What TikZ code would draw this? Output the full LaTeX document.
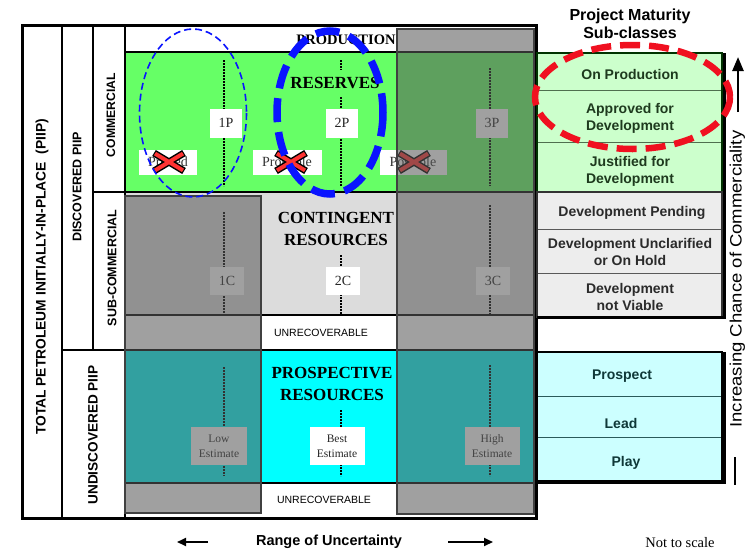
\documentclass[tikz,border=0pt]{standalone}
\usepackage{fontspec}
\setmainfont{Liberation Serif}
\newfontfamily\arialf{Liberation Sans}
\usetikzlibrary{arrows.meta,shapes.geometric}
\newcommand{\fsz}[2]{\fontsize{#1}{#2}\selectfont}
\definecolor{resgreen}{HTML}{66FF66}
\definecolor{contgray}{HTML}{DCDCDC}
\definecolor{prospcyan}{HTML}{00FFFF}
\definecolor{ovgray}{HTML}{595959}
\definecolor{pgreen}{HTML}{CCFFCC}
\definecolor{pgray}{HTML}{EDEDED}
\definecolor{pcyan}{HTML}{CCFFFF}
\definecolor{dblue}{HTML}{0A14FF}
\definecolor{xred}{HTML}{FF3333}
\definecolor{ered}{HTML}{F01020}
\definecolor{gtext}{HTML}{1E3A1E}
\definecolor{grtext}{HTML}{2B2B2B}
\definecolor{ctext}{HTML}{0F3838}
\definecolor{gline}{HTML}{4F6F4F}
\definecolor{cline}{HTML}{2A5A5A}
\tikzset{
  redcross/.pic={
    \draw[line width=7pt, black] (-15,-9)--(15,9) (-15,9)--(15,-9);
    \draw[line width=4pt, xred] (-14,-8.4)--(14,8.4) (-14,8.4)--(14,-8.4);
  }
}
\begin{document}
\begin{tikzpicture}[x=1pt,y=-1pt,
  gridline/.style={line width=2.6pt, black},
  dotline/.style={line width=2.1pt, dash pattern=on 1.7pt off 1.3pt, black},
  lbox/.style={fill=white, inner sep=0pt, align=center, font=\fsz{14}{16}, text=black!85},
  ebox/.style={fill=white, inner sep=0pt, align=center, font=\fsz{11.5}{15}, text=black!85, minimum width=55, minimum height=38},
  catbox/.style={fill=white, inner sep=0pt, align=center, font=\fsz{14}{16}, text=black!80, minimum height=25},
  heading/.style={font=\bfseries\fsz{17}{22}, align=center},
  sidelbl/.style={rotate=90, inner sep=0pt},
  unrec/.style={font=\arialf\fsz{10.5}{12}},
  ovcol/.style={fill=ovgray, fill opacity=0.57, draw=black!75, line width=1.2pt},
  mat/.style={font=\arialf\bfseries\fsz{14}{17}, align=center},
]
\useasboundingbox (0,0) rectangle (745,552);
% base fills
\fill[white] (22,25) rectangle (536,518);
\fill[resgreen] (125,52) rectangle (536,192);
\fill[contgray] (125,192) rectangle (536,315);
\fill[prospcyan] (125,350) rectangle (536,483);
% dotted lines
\draw[dotline] (224,60)--(224,186);
\draw[dotline] (341,60)--(341,70);
\draw[dotline] (341,97)--(341,186);
\draw[dotline] (490,68)--(490,186);
\draw[dotline] (224,212)--(224,314);
\draw[dotline] (341,255)--(341,314);
\draw[dotline] (490,205)--(490,314);
\draw[dotline] (224,367)--(224,476);
\draw[dotline] (341,410)--(341,476);
\draw[dotline] (490,365)--(490,476);
% headings
\node[heading, font=\bfseries\fsz{14.5}{17}] (prod) at (346,40) {PRODUCTION};
\node[heading] (res) at (335,83) {RESERVES};
\node[heading] (cont) at (336,229) {CONTINGENT\\RESOURCES};
\node[heading] (prosp) at (332,384) {PROSPECTIVE\\RESOURCES};
% labels
\node[lbox, minimum width=32, minimum height=29] (p1) at (226,123) {1P};
\node[lbox, minimum width=32, minimum height=29] (p2) at (342,123) {2P};
\node[lbox, minimum width=32, minimum height=29] (p3) at (492,123) {3P};
\node[catbox, minimum width=58] (proved) at (168,162) {Proved};
\node[catbox, minimum width=69] (probable) at (287,162) {Probable};
\node[catbox, minimum width=67] (possible) at (413,162) {Possible};
\pic (xa) at (169,162) {redcross};
\pic (xb) at (291,162) {redcross};
\pic (xc) at (414,162) {redcross};
\node[lbox, minimum width=34, minimum height=28] (c1) at (227,281) {1C};
\node[lbox, minimum width=34, minimum height=28] (c2) at (343,281) {2C};
\node[lbox, minimum width=34, minimum height=28] (c3) at (493,281) {3C};
\node[ebox, minimum width=56] (low) at (219,446) {Low\\Estimate};
\node[ebox] (best) at (337,446) {Best\\Estimate};
\node[ebox] (high) at (492,446) {High\\Estimate};
\node[unrec] (unr1) at (321,333) {UNRECOVERABLE};
\node[unrec] (unr2) at (324,500) {UNRECOVERABLE};
% grid lines
\draw[gridline] (62,25)--(62,518);
\draw[gridline] (93,25)--(93,350);
\draw[gridline] (125,25)--(125,518);
\draw[gridline] (125,52)--(536,52);
\draw[gridline] (93,192)--(536,192);
\draw[gridline] (125,315)--(536,315);
\draw[gridline] (62,350)--(536,350);
\draw[gridline] (125,483)--(536,483);
% overlays
\draw[ovcol] (125,196) rectangle (261,513);
\draw[ovcol] (397,29) rectangle (534,514);
% outer frame
\draw[line width=3pt] (22,25) rectangle (536,518);
% side labels
\node[sidelbl, font=\arialf\bfseries\fsz{13.8}{16}] (total) at (42,277) {TOTAL PETROLEUM INITIALLY-IN-PLACE~~(PIIP)};
\node[sidelbl, font=\arialf\bfseries\fsz{12.5}{14}] (disc) at (77,187) {DISCOVERED PIIP};
\node[sidelbl, font=\arialf\bfseries\fsz{12.2}{14}] (comm) at (111,115) {COMMERCIAL};
\node[sidelbl, font=\arialf\bfseries\fsz{12.5}{14}] (subcomm) at (112,268) {SUB-COMMERCIAL};
\node[sidelbl, font=\arialf\bfseries\fsz{13.6}{16}] (undisc) at (93,435) {UNDISCOVERED PIIP};
% blue ellipses
\draw[dblue, line width=1.6pt, dash pattern=on 7pt off 4pt] (193,113) ellipse [x radius=53.5, y radius=84];
\draw[dblue, line width=7.5pt, dash pattern=on 24pt off 10pt] (330,112.5) ellipse [x radius=53, y radius=81.5];
% right panel
\node[font=\arialf\bfseries\fsz{16}{18}, align=center] (pm) at (630,24) {Project Maturity\\Sub-classes};
\fill[pgreen] (537,53) rectangle (722,192);
\draw[gline, line width=1pt] (537,90)--(722,90) (537,142)--(722,142);
\draw[black!80!green, line width=1.4pt] (537,53) rectangle (722,192);
\node[mat, text=gtext] (onprod) at (630,74) {On Production};
\node[mat, text=gtext] (approved) at (630,118.5) {Approved for\\Development};
\node[mat, text=gtext] (justified) at (630,171.5) {Justified for\\Development};
\fill[pgray] (537,192) rectangle (722,317);
\draw[black!65, line width=1pt] (537,229)--(722,229) (537,273)--(722,273);
\draw[black!80, line width=1.4pt] (537,192) rectangle (722,317);
\node[mat, text=grtext] (pending) at (632,213) {Development Pending};
\node[mat, text=grtext] (unclar) at (630,252) {Development Unclarified\\or On Hold};
\node[mat, text=grtext] (notviable) at (630,296.5) {Development\\not Viable};
\draw[line width=3pt] (724,53)--(724,318.5) (537,317)--(725.5,317);
\fill[pcyan] (537,352) rectangle (722,480);
\draw[cline, line width=1pt] (537,396)--(722,396) (537,437)--(722,437);
\draw[black, line width=2pt] (537,352) rectangle (722,481);
\draw[line width=3pt] (724,352)--(724,484) (537,482.5)--(725.5,482.5);
\node[mat, text=ctext] (prospect) at (622,376) {Prospect};
\node[mat, text=ctext] (lead) at (621,423) {Lead};
\node[mat, text=ctext] (play) at (626,463) {Play};
% red ellipse
\draw[ered, line width=6.5pt, dash pattern=on 20pt off 9pt] (632.5,97) ellipse [x radius=97.5, y radius=52];
% vertical axis
\node[rotate=90, xscale=1.12, anchor=base, inner sep=0pt, font=\arialf\fsz{16.5}{20}] (incr) at (741.5,279) {Increasing Chance of Commerciality};
\coordinate (ua1) at (738,112);
\coordinate (ua2) at (738,57);
\draw[line width=2.5pt, -{Triangle[length=14pt,width=11pt]}] (ua1)--(ua2);
\coordinate (ub1) at (735,457);
\coordinate (ub2) at (735,485);
\draw[line width=2.5pt] (ub1)--(ub2);
% bottom
\node[font=\arialf\bfseries\fsz{14.5}{17}] (range) at (329,542) {Range of Uncertainty};
\coordinate (la1) at (208,542);
\coordinate (la2) at (177,542);
\draw[line width=2pt, -{Triangle[length=9pt,width=8pt]}] (la1)--(la2);
\coordinate (ra1) at (448,542);
\coordinate (ra2) at (493,542);
\draw[line width=2pt, -{Triangle[length=9pt,width=8pt]}] (ra1)--(ra2);
\node[font=\fsz{14.5}{17}] (nts) at (680,543) {Not to scale};
\end{tikzpicture}
\end{document}
